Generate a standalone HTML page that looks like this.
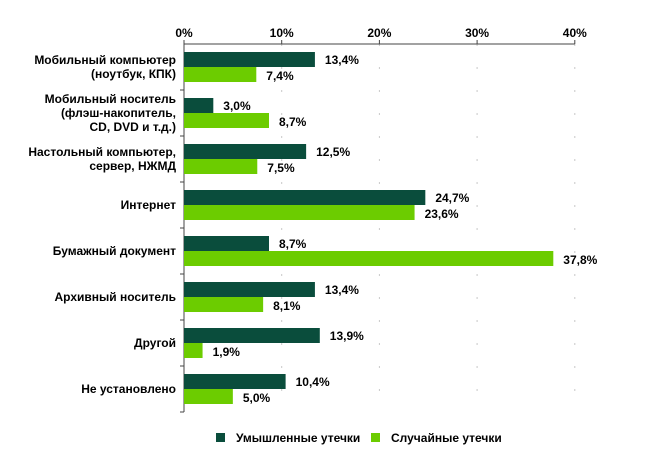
<!DOCTYPE html>
<html><head><meta charset="utf-8"><style>
body{margin:0;background:#fff;}
svg{display:block;font-family:"Liberation Sans",Arial,sans-serif;font-weight:bold;}
</style></head><body>
<svg id="chart" width="650" height="450"></svg>
<script>
const categories=[["Мобильный компьютер","(ноутбук, КПК)"],["Мобильный носитель","(флэш-накопитель,","CD, DVD и т.д.)"],["Настольный компьютер,","сервер, НЖМД"],["Интернет"],["Бумажный документ"],["Архивный носитель"],["Другой"],["Не установлено"]];
const intentional=[13.4,3.0,12.5,24.7,8.7,13.4,13.9,10.4];
const accidental=[7.4,8.7,7.5,23.6,37.8,8.1,1.9,5.0];
const ticks=[0,10,20,30,40];
const NS="http://www.w3.org/2000/svg";
const svg=document.getElementById('chart');
const x0=184,pxPer=9.77,topY=44,band=46;
const xs=v=>x0+v*pxPer;
function mk(t,a){const e=document.createElementNS(NS,t);for(const k in a)e.setAttribute(k,a[k]);svg.appendChild(e);return e;}
ticks.forEach(t=>{
 if(t>0){const g=mk('line',{x1:xs(t),x2:xs(t),y1:topY,y2:topY+band*categories.length,stroke:'#c8c8c8','stroke-dasharray':'2,21'});
 
 }
 const l=mk('text',{x:xs(t),y:topY-7,'text-anchor':'middle','font-size':12,fill:'#000'});l.textContent=t+'%';
 
 
 const tk=mk('line',{x1:xs(t),x2:xs(t),y1:topY-4,y2:topY,stroke:'#444'});
 
 
});
const ax=mk('line',{x1:x0,x2:xs(40),y1:topY,y2:topY,stroke:'#444'});


const ay=mk('line',{x1:x0,x2:x0,y1:topY,y2:topY+band*categories.length,stroke:'#444'});


categories.forEach((c,i)=>{
 const b=mk('line',{x1:x0-4,x2:x0,y1:topY+band*(i+1),y2:topY+band*(i+1),stroke:'#444'});
 
 
 const cy=topY+band*i+23;
 const r1=mk('rect',{x:x0,y:cy-15,width:xs(intentional[i])-x0,height:15,fill:'#0a4d3c'});
 
 
 const r2=mk('rect',{x:x0,y:cy,width:xs(accidental[i])-x0,height:15,fill:'#6ccc00'});
 
 
 const v1=mk('text',{x:xs(intentional[i])+10,y:cy-3,'font-size':12});v1.textContent=intentional[i].toFixed(1).replace('.',',')+'%';
 
 
 const v2=mk('text',{x:xs(accidental[i])+10,y:cy+13,'font-size':12});v2.textContent=accidental[i].toFixed(1).replace('.',',')+'%';
 
 
 const n=c.length,lh=14;
 c.forEach((s,j)=>{
  const t=mk('text',{x:176,y:cy+4+(j-(n-1)/2)*lh,'text-anchor':'end','font-size':12});t.textContent=s;
  
  
 });
});
const legend=[["Умышленные утечки","#0a4d3c",216],["Случайные утечки","#6ccc00",371]];
legend.forEach(([t,c,x])=>{
 const r=mk('rect',{x:x,y:433,width:9,height:9,fill:c});
 
 
 const tx=mk('text',{x:x+20,y:442,'font-size':12});tx.textContent=t;
 
 
});
</script>
</body></html>
